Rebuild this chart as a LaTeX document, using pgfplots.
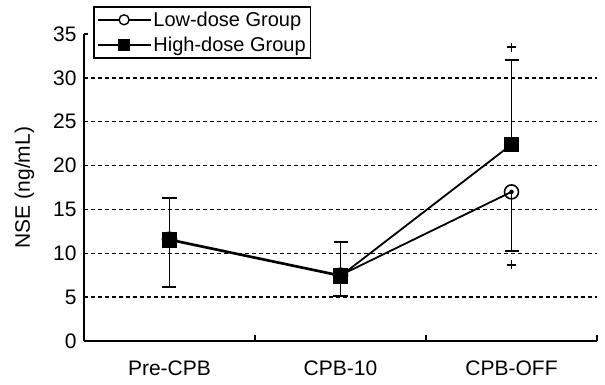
\documentclass[border=0pt]{standalone}
\usepackage{fontspec}
\setmainfont{Liberation Sans}
\usepackage{pgfplots}
\pgfplotsset{compat=1.18}
\begin{document}
\begin{tikzpicture}
\begin{axis}[
  name=ax,
  scale only axis,
  width=513bp, height=307bp,
  xmin=0, xmax=3, ymin=0, ymax=35,
  axis x line*=bottom, axis y line*=left,
  axis line style={line width=1.7bp, -},
  xtick={0.5,1.5,2.5},
  xticklabels={Pre-CPB, CPB-10, CPB-OFF},
  minor xtick={1,2,3},
  ytick={5,10,...,30},
  extra y ticks={0,35},
  extra y tick style={grid=none},
  tick align=inside,
  x tick style={draw=none},
  minor x tick style={draw=black, line width=1.5bp},
  minor tick length=6bp,
  y tick style={line width=1.5bp, black},
  major tick length=4bp,
  ymajorgrids,
  grid style={black, line width=1.5bp, dash pattern=on 4bp off 3bp},
  tick label style={font=\fontsize{21bp}{24bp}\selectfont},
  /pgf/number format/assume math mode=true,
  xticklabel style={yshift=-16bp},
  yticklabel style={xshift=-4bp},
  ylabel={NSE (ng/mL)},
  ylabel style={font=\fontsize{21bp}{24bp}\selectfont, yshift=12bp},
  legend style={at={(axis description cs:0,1)}, anchor=north west, xshift=9bp, yshift=28bp,
    draw=black, line width=1.6bp, font=\fontsize{20bp}{23bp}\selectfont,
    inner xsep=3bp, inner ysep=3bp, row sep=5bp, cells={anchor=west}},
  legend cell align=left,
  clip=false,
]
% error bars (drawn first so markers sit on top)
\addplot[forget plot, only marks, mark=none, black,
  error bars/.cd, y dir=both, y explicit,
  error bar style={line width=1.8bp},
  error mark options={rotate=90, mark size=7bp, line width=1.8bp}]
  coordinates {(0.5,11.5) += (0,4.8) -= (0,5.3)
               (1.5,7.4) += (0,3.9) -= (0,2.3)};
\addplot[forget plot, only marks, mark=none, black,
  error bars/.cd, y dir=plus, y explicit,
  error bar style={line width=1.8bp},
  error mark options={rotate=90, mark size=7bp, line width=1.8bp}]
  coordinates {(2.5,22.4) += (0,9.6)};
\addplot[forget plot, only marks, mark=none, black,
  error bars/.cd, y dir=minus, y explicit,
  error bar style={line width=1.8bp},
  error mark options={rotate=90, mark size=7bp, line width=1.8bp}]
  coordinates {(2.5,17.0) -= (0,6.7)};
% significance marks
\addplot[forget plot, only marks, mark=+, mark size=4.5bp, black, mark options={line width=1.8bp}]
  coordinates {(2.5,33.5) (2.5,8.7)};
% series
\addplot[black, line width=1.8bp, mark=o, mark size=7bp, mark options={fill=white, line width=1.6bp},
  legend image code/.code={\draw[line width=1.6bp] (0bp,0bp) -- (53bp,0bp);
     \draw[line width=1.4bp, fill=white] (26.5bp,0bp) circle (5bp);}]
  coordinates {(0.5,11.6) (1.5,7.5) (2.5,17.0)};
\addlegendentry{Low-dose Group}
\addplot[black, line width=1.8bp, mark=square*, mark size=7bp, mark options={fill=black},
  legend image code/.code={\draw[line width=1.6bp] (0bp,0bp) -- (53bp,0bp);
     \fill[black] (21.5bp,-5bp) rectangle (31.5bp,5bp);}]
  coordinates {(0.5,11.5) (1.5,7.4) (2.5,22.4)};
\addlegendentry{High-dose Group}
\end{axis}
\path ([shift={(-84bp,-44bp)}]ax.south west) ([shift={(8bp,34bp)}]ax.north east);
\end{tikzpicture}
\end{document}
